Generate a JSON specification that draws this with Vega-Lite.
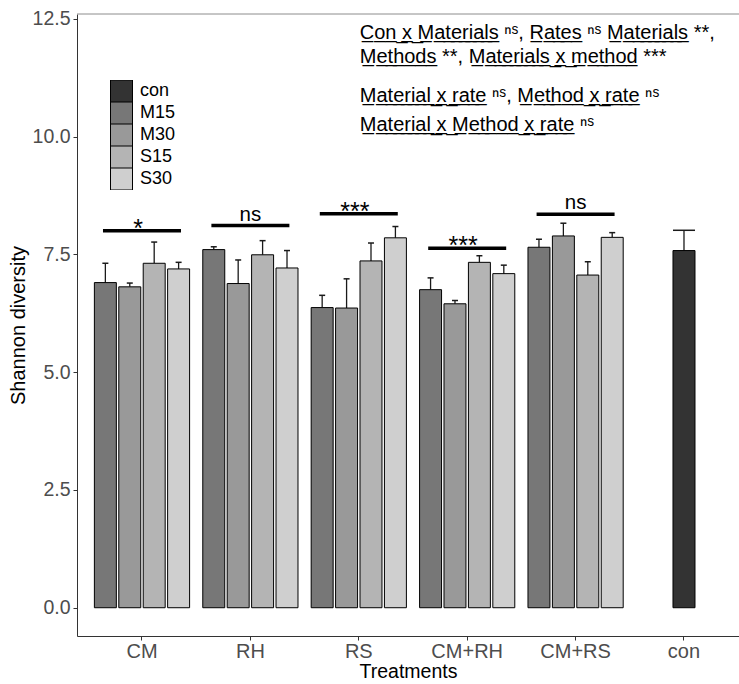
{
  "$schema": "https://vega.github.io/schema/vega-lite/v6.json",
  "width": 662,
  "height": 622,
  "autosize": "none",
  "padding": {"left": 77, "top": 14, "right": 0, "bottom": 48},
  "background": "white",
  "config": {"font": "Liberation Sans", "view": {"stroke": null}, "axis": {"grid": false}},
  "datasets": {
    "bars": [
      {"treatment": "CM", "level": "M15", "mean": 6.90, "upper": 7.31},
      {"treatment": "CM", "level": "M30", "mean": 6.81, "upper": 6.89},
      {"treatment": "CM", "level": "S15", "mean": 7.31, "upper": 7.76},
      {"treatment": "CM", "level": "S30", "mean": 7.19, "upper": 7.33},
      {"treatment": "RH", "level": "M15", "mean": 7.60, "upper": 7.66},
      {"treatment": "RH", "level": "M30", "mean": 6.88, "upper": 7.38},
      {"treatment": "RH", "level": "S15", "mean": 7.49, "upper": 7.79},
      {"treatment": "RH", "level": "S30", "mean": 7.21, "upper": 7.58},
      {"treatment": "RS", "level": "M15", "mean": 6.37, "upper": 6.63},
      {"treatment": "RS", "level": "M30", "mean": 6.36, "upper": 6.98},
      {"treatment": "RS", "level": "S15", "mean": 7.36, "upper": 7.74},
      {"treatment": "RS", "level": "S30", "mean": 7.85, "upper": 8.09},
      {"treatment": "CM+RH", "level": "M15", "mean": 6.75, "upper": 7.00},
      {"treatment": "CM+RH", "level": "M30", "mean": 6.45, "upper": 6.52},
      {"treatment": "CM+RH", "level": "S15", "mean": 7.33, "upper": 7.47},
      {"treatment": "CM+RH", "level": "S30", "mean": 7.09, "upper": 7.27},
      {"treatment": "CM+RS", "level": "M15", "mean": 7.65, "upper": 7.82},
      {"treatment": "CM+RS", "level": "M30", "mean": 7.89, "upper": 8.16},
      {"treatment": "CM+RS", "level": "S15", "mean": 7.06, "upper": 7.34},
      {"treatment": "CM+RS", "level": "S30", "mean": 7.86, "upper": 7.96},
      {"treatment": "con", "level": "con", "mean": 7.58, "upper": 8.01}
    ],
    "sig": [
      {"treatment": "CM", "line": 8.00, "label": "*"},
      {"treatment": "RH", "line": 8.11, "label": "ns"},
      {"treatment": "RS", "line": 8.36, "label": "***"},
      {"treatment": "CM+RH", "line": 7.63, "label": "***"},
      {"treatment": "CM+RS", "line": 8.35, "label": "ns"}
    ],
    "one": [{}]
  },
  "layer": [
    {
      "data": {"name": "bars"},
      "transform": [{"filter": "datum.level != 'con'"}],
      "mark": {"type": "rule", "color": "#1a1a1a", "strokeWidth": 1.3},
      "encoding": {
        "x": {
          "field": "treatment", "type": "nominal",
          "scale": {"domain": ["CM", "RH", "RS", "CM+RH", "CM+RS", "con"], "paddingInner": 0, "paddingOuter": 0.0535, "align": 0.93},
          "axis": {"title": "Treatments", "titleFontSize": 19.5, "titleFontWeight": "normal", "titleColor": "black", "titlePadding": 1,
                   "labelFontSize": 20, "labelColor": "#4d4d4d", "labelPadding": 1, "labelAngle": 0,
                   "tickSize": 4, "tickColor": "#333333", "domainColor": "#333333", "domainWidth": 1}
        },
        "xOffset": {"field": "level", "scale": {"domain": ["M15", "M30", "S15", "S30"], "paddingInner": 0.1, "paddingOuter": 0.27}},
        "y": {
          "field": "mean", "type": "quantitative",
          "scale": {"domain": [-0.6, 12.6], "nice": false, "zero": false},
          "axis": {"title": "Shannon diversity", "titleFontSize": 20, "titleFontWeight": "normal", "titleColor": "black", "titlePadding": 4,
                   "values": [0, 2.5, 5, 7.5, 10, 12.5], "format": ".1f",
                   "labelFontSize": 19.5, "labelColor": "#4d4d4d", "labelPadding": 3,
                   "tickSize": 4, "tickColor": "#333333", "domainColor": "#333333", "domainWidth": 1}
        },
        "y2": {"field": "upper"}
      }
    },
    {
      "data": {"name": "bars"},
      "transform": [{"filter": "datum.level != 'con'"}],
      "mark": {"type": "tick", "color": "#1a1a1a", "opacity": 1, "size": 6, "thickness": 1.5, "orient": "horizontal"},
      "encoding": {
        "x": {"field": "treatment", "type": "nominal"},
        "xOffset": {"field": "level"},
        "y": {"field": "upper", "type": "quantitative"}
      }
    },
    {
      "data": {"name": "bars"},
      "transform": [{"filter": "datum.level != 'con'"}],
      "mark": {"type": "bar", "stroke": "black", "strokeWidth": 1},
      "encoding": {
        "x": {"field": "treatment", "type": "nominal"},
        "xOffset": {"field": "level"},
        "y": {"field": "mean", "type": "quantitative"},
        "color": {
          "field": "level", "type": "nominal",
          "scale": {"domain": ["con", "M15", "M30", "S15", "S30"], "range": ["#333333", "#777777", "#999999", "#B4B4B4", "#CFCFCF"]},
          "legend": {"title": null, "orient": "none", "legendX": 33, "legendY": 66, "symbolType": "square", "symbolSize": 484,
                     "symbolStrokeColor": "black", "symbolStrokeWidth": 1, "symbolOpacity": 1, "labelFontSize": 18, "labelColor": "black",
                     "rowPadding": 0, "clipHeight": 22, "labelOffset": 7}
        }
      }
    },
    {
      "data": {"name": "bars"},
      "transform": [{"filter": "datum.level == 'con'"}],
      "mark": {"type": "rule", "color": "#1a1a1a", "strokeWidth": 1.3},
      "encoding": {
        "x": {"field": "treatment", "type": "nominal"},
        "y": {"field": "mean", "type": "quantitative"},
        "y2": {"field": "upper"}
      }
    },
    {
      "data": {"name": "bars"},
      "transform": [{"filter": "datum.level == 'con'"}],
      "mark": {"type": "tick", "color": "#1a1a1a", "opacity": 1, "size": 22, "thickness": 1.5, "orient": "horizontal"},
      "encoding": {
        "x": {"field": "treatment", "type": "nominal"},
        "y": {"field": "upper", "type": "quantitative"}
      }
    },
    {
      "data": {"name": "bars"},
      "transform": [{"filter": "datum.level == 'con'"}],
      "mark": {"type": "bar", "stroke": "black", "strokeWidth": 1, "width": {"band": 0.203}},
      "encoding": {
        "x": {"field": "treatment", "type": "nominal"},
        "y": {"field": "mean", "type": "quantitative"},
        "color": {"field": "level", "type": "nominal"}
      }
    },
    {
      "data": {"name": "sig"},
      "mark": {"type": "tick", "color": "black", "opacity": 1, "size": 78, "thickness": 3.5, "orient": "horizontal"},
      "encoding": {
        "x": {"field": "treatment", "type": "nominal"},
        "y": {"field": "line", "type": "quantitative"}
      }
    },
    {
      "data": {"name": "sig"},
      "transform": [{"filter": "datum.label == 'ns'"}],
      "mark": {"type": "text", "fontSize": 20.5, "baseline": "alphabetic", "dy": -5, "color": "black"},
      "encoding": {
        "x": {"field": "treatment", "type": "nominal"},
        "y": {"field": "line", "type": "quantitative"},
        "text": {"field": "label"}
      }
    },
    {
      "data": {"name": "sig"},
      "transform": [{"filter": "datum.label != 'ns'"}],
      "mark": {"type": "text", "fontSize": 25, "baseline": "alphabetic", "dy": 6, "dx": -4, "color": "black"},
      "encoding": {
        "x": {"field": "treatment", "type": "nominal"},
        "y": {"field": "line", "type": "quantitative"},
        "text": {"field": "label"}
      }
    },
    {
      "data": {"name": "one"},
      "mark": {"type": "rule", "color": "#8c8c8c", "strokeWidth": 1},
      "encoding": {"y": {"datum": 12.6}}
    },
    {
      "data": {"name": "one"},
      "mark": {"type": "text", "fontSize": 20, "align": "left", "baseline": "alphabetic", "dx": 1, "color": "black",
               "text": "C\u0332o\u0332n\u0332 \u0332x\u0332 \u0332M\u0332a\u0332t\u0332e\u0332r\u0332i\u0332a\u0332l\u0332s\u0332 \u207f\u02e2, R\u0332a\u0332t\u0332e\u0332s\u0332 \u207f\u02e2 M\u0332a\u0332t\u0332e\u0332r\u0332i\u0332a\u0332l\u0332s\u0332 **,"},
      "encoding": {"x": {"datum": "RS"}, "y": {"datum": 12.06}}
    },
    {
      "data": {"name": "one"},
      "mark": {"type": "text", "fontSize": 20, "align": "left", "baseline": "alphabetic", "dx": 1, "color": "black",
               "text": "M\u0332e\u0332t\u0332h\u0332o\u0332d\u0332s\u0332 **, M\u0332a\u0332t\u0332e\u0332r\u0332i\u0332a\u0332l\u0332s\u0332 \u0332x\u0332 \u0332m\u0332e\u0332t\u0332h\u0332o\u0332d\u0332 ***"},
      "encoding": {"x": {"datum": "RS"}, "y": {"datum": 11.56}}
    },
    {
      "data": {"name": "one"},
      "mark": {"type": "text", "fontSize": 20, "align": "left", "baseline": "alphabetic", "dx": 1, "color": "black",
               "text": "M\u0332a\u0332t\u0332e\u0332r\u0332i\u0332a\u0332l\u0332 \u0332x\u0332 \u0332r\u0332a\u0332t\u0332e\u0332 \u207f\u02e2, M\u0332e\u0332t\u0332h\u0332o\u0332d\u0332 \u0332x\u0332 \u0332r\u0332a\u0332t\u0332e\u0332 \u207f\u02e2"},
      "encoding": {"x": {"datum": "RS"}, "y": {"datum": 10.73}}
    },
    {
      "data": {"name": "one"},
      "mark": {"type": "text", "fontSize": 20, "align": "left", "baseline": "alphabetic", "dx": 1, "color": "black",
               "text": "M\u0332a\u0332t\u0332e\u0332r\u0332i\u0332a\u0332l\u0332 \u0332x\u0332 \u0332M\u0332e\u0332t\u0332h\u0332o\u0332d\u0332 \u0332x\u0332 \u0332r\u0332a\u0332t\u0332e\u0332 \u207f\u02e2"},
      "encoding": {"x": {"datum": "RS"}, "y": {"datum": 10.11}}
    }
  ]
}
